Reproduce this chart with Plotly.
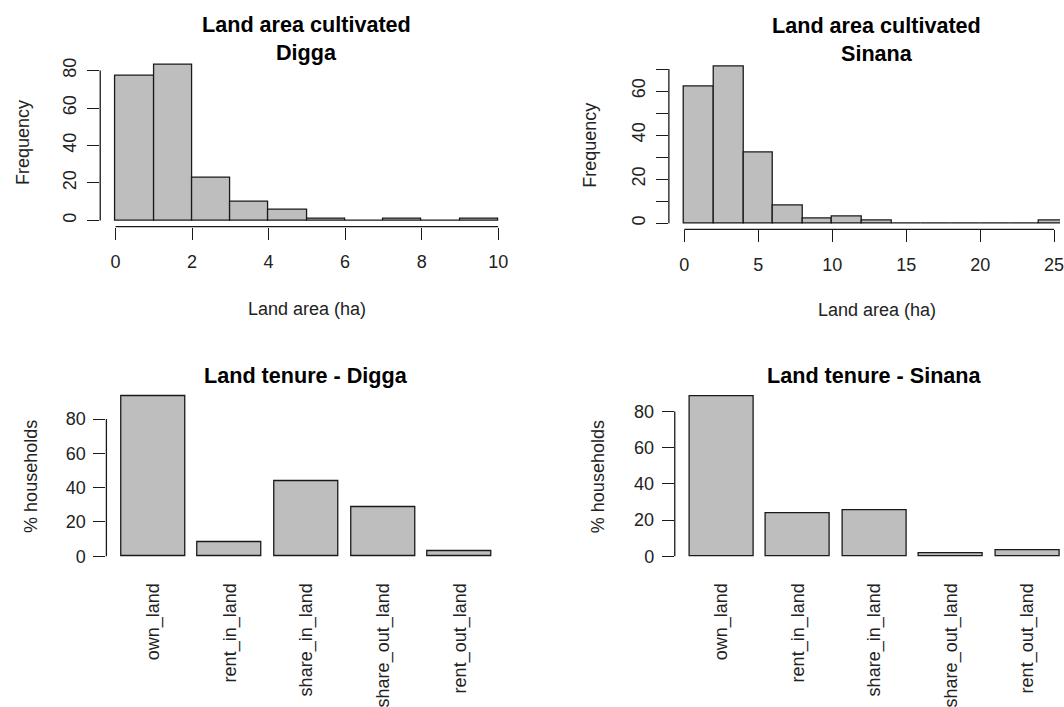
import plotly.graph_objects as go

# ---------------- data ----------------
digga_breaks = [0, 1, 2, 3, 4, 5, 6, 7, 8, 9, 10]
digga_counts = [77, 83, 23, 10, 6, 1, 0, 1, 0, 1]

sinana_breaks = [0, 2, 4, 6, 8, 10, 12, 14, 16, 18, 20, 22, 24, 26]
sinana_counts = [62, 71, 32, 8, 2, 3, 1, 0, 0, 0, 0, 0, 1]

tenure_categories = ["own_land", "rent_in_land", "share_in_land", "share_out_land", "rent_out_land"]
digga_tenure = [93.1, 8.3, 43.8, 28.9, 3.3]
sinana_tenure = [88.2, 23.9, 25.2, 1.5, 3.6]

digga_x_ticks = [0, 2, 4, 6, 8, 10]
digga_y_ticks = [0, 20, 40, 60, 80]
sinana_x_ticks = [0, 5, 10, 15, 20, 25]
sinana_y_ticks = [0, 10, 20, 30, 40, 50, 60, 70]
sinana_y_labels = ["0", "", "20", "", "40", "", "60", ""]
tenure_y_ticks = [0, 20, 40, 60, 80]

# ---------------- style ----------------
W, H = 1064, 707
FONT = "Liberation Sans, Arial, sans-serif"
TXT = "#222222"
FILL = "#BEBEBE"
EDGE = "#1a1a1a"
LW = 1.3
TICKLEN = 12


def px_x(p):
    return p / W


def px_y(p):
    return 1 - p / H


def r_range(lo, hi):
    d = (hi - lo) * 0.04
    return [lo - d, hi + d]


fig = go.Figure()

# --- histograms ---
def hist_trace(breaks, counts, xa, ya):
    mids = [(breaks[i] + breaks[i + 1]) / 2 for i in range(len(counts))]
    widths = [breaks[i + 1] - breaks[i] for i in range(len(counts))]
    return go.Bar(x=mids, y=counts, width=widths, xaxis=xa, yaxis=ya,
                  marker=dict(color=FILL, line=dict(color=EDGE, width=LW)),
                  showlegend=False, hoverinfo="x+y")

fig.add_trace(hist_trace(digga_breaks, digga_counts, "x", "y"))
fig.add_trace(hist_trace(sinana_breaks, sinana_counts, "x2", "y2"))

# --- bar charts ---
fig.add_trace(go.Bar(x=tenure_categories, y=digga_tenure, width=1 / 1.2, xaxis="x3", yaxis="y3",
                     marker=dict(color=FILL, line=dict(color=EDGE, width=LW)), showlegend=False))
fig.add_trace(go.Bar(x=tenure_categories, y=sinana_tenure, width=1 / 1.2, xaxis="x4", yaxis="y4",
                     marker=dict(color=FILL, line=dict(color=EDGE, width=LW)), showlegend=False))

tickfont = dict(family=FONT, size=18, color=TXT)
base_axis = dict(showgrid=False, zeroline=False, showline=False, ticks="outside",
                 ticklen=TICKLEN, tickwidth=LW, tickcolor=EDGE, tickfont=tickfont,
                 ticklabeloverflow="allow")

# ranges
tl_x = r_range(digga_breaks[0], digga_breaks[-1])
tl_y = r_range(0, max(digga_counts))
tr_x_full = r_range(sinana_breaks[0], sinana_breaks[-1])
tr_y = r_range(0, max(sinana_counts))
# right panel is cut by the page edge: visible part only
tr_px_per_unit = 14.85
tr_x = [tr_x_full[0], tr_x_full[0] + (W - 671.4) / tr_px_per_unit]

bl_y = r_range(0, max(digga_tenure))
br_y = r_range(0, max(sinana_tenure))
n = len(tenure_categories)
# R barplot: width 1, space 0.2 -> xlim 0.2..(1.2n), extended by 4%
lo, hi = 0.2, 1.2 * n
ext = (hi - lo) * 0.04
cat_lo = ((lo - ext) - 0.7) / 1.2
cat_hi = ((hi + ext) - 0.7) / 1.2
br_cat_hi = cat_lo + (W - 677.3) / 76.8

fig.update_layout(
    width=W, height=H,
    margin=dict(l=0, r=0, t=0, b=0),
    paper_bgcolor="white", plot_bgcolor="white",
    bargap=0,
    font=dict(family=FONT, size=18, color=TXT),
    xaxis=dict(base_axis, domain=[px_x(100.6), px_x(515.4)], range=tl_x, anchor="y",
               tickvals=digga_x_ticks, ticklabelstandoff=7),
    yaxis=dict(base_axis, domain=[px_y(227.3), px_y(58.1)], range=tl_y, anchor="x",
               tickvals=digga_y_ticks, tickangle=-90, ticklabelstandoff=4),
    xaxis2=dict(base_axis, domain=[px_x(671.4), 1.0], range=tr_x, anchor="y2",
                tickvals=sinana_x_ticks, ticklabelstandoff=7),
    yaxis2=dict(base_axis, domain=[px_y(230.0), px_y(60.0)], range=tr_y, anchor="x2",
                tickvals=sinana_y_ticks, ticktext=sinana_y_labels, tickangle=-90, ticklabelstandoff=4),
    xaxis3=dict(showgrid=False, zeroline=False, showline=False, ticks="", tickfont=tickfont,
                domain=[px_x(106.8), px_x(508.4)], range=[cat_lo, cat_hi], anchor="y3",
                tickangle=-90, ticklabelstandoff=16, type="category", ticklabeloverflow="allow"),
    yaxis3=dict(base_axis, domain=[px_y(565.7), px_y(391.9)], range=bl_y, anchor="x3",
                tickvals=tenure_y_ticks, ticklabelstandoff=4),
    xaxis4=dict(showgrid=False, zeroline=False, showline=False, ticks="", tickfont=tickfont,
                domain=[px_x(677.3), 1.0], range=[cat_lo, br_cat_hi], anchor="y4",
                tickangle=-90, ticklabelstandoff=16, type="category", ticklabeloverflow="allow"),
    yaxis4=dict(base_axis, domain=[px_y(565.7), px_y(392.0)], range=br_y, anchor="x4",
                tickvals=tenure_y_ticks, ticklabelstandoff=4),
)

# axis lines spanning first..last tick (R style)
def vline(xref, yref, ticks):
    fig.add_shape(type="line", xref=xref + " domain", yref=yref, x0=0, x1=0,
                  y0=ticks[0], y1=ticks[-1], line=dict(color=EDGE, width=LW))


def hline(xref, yref, ticks):
    fig.add_shape(type="line", xref=xref, yref=yref + " domain", y0=0, y1=0,
                  x0=ticks[0], x1=ticks[-1], line=dict(color=EDGE, width=LW))

vline("x", "y", digga_y_ticks)
hline("x", "y", digga_x_ticks)
vline("x2", "y2", sinana_y_ticks)
hline("x2", "y2", sinana_x_ticks)
vline("x3", "y3", tenure_y_ticks)
vline("x4", "y4", tenure_y_ticks)

# ---------------- titles & axis labels ----------------
def ann(text, x, y, size=18, bold=False, angle=0, color=TXT):
    fig.add_annotation(text=("<b>%s</b>" % text) if bold else text, x=px_x(x), y=px_y(y),
                       xref="paper", yref="paper", showarrow=False, textangle=angle,
                       xanchor="center", yanchor="middle",
                       font=dict(family=FONT, size=size, color=color))

# top-left
ann("Land area cultivated", 308, 24, 21.6, True, color="black")
ann("Digga", 308, 51.7, 21.6, True, color="black")
ann("Frequency", 22.5, 142.7, angle=-90)
ann("Land area (ha)", 308, 310)
# top-right
ann("Land area cultivated", 880, 25, 21.6, True, color="black")
ann("Sinana", 880, 52.7, 21.6, True, color="black")
ann("Frequency", 592, 145, angle=-90)
ann("Land area (ha)", 880, 311.7)
# bottom-left
ann("Land tenure - Digga", 307.6, 377.5, 21.6, True, color="black")
ann("% households", 30.4, 479, angle=-90)
# bottom-right
ann("Land tenure - Sinana", 877.7, 377.5, 21.6, True, color="black")
ann("% households", 599.8, 479, angle=-90)

fig.write_html("out.html", config={"displayModeBar": False},
               post_script="document.body.style.margin='0';document.body.style.overflow='hidden';")
